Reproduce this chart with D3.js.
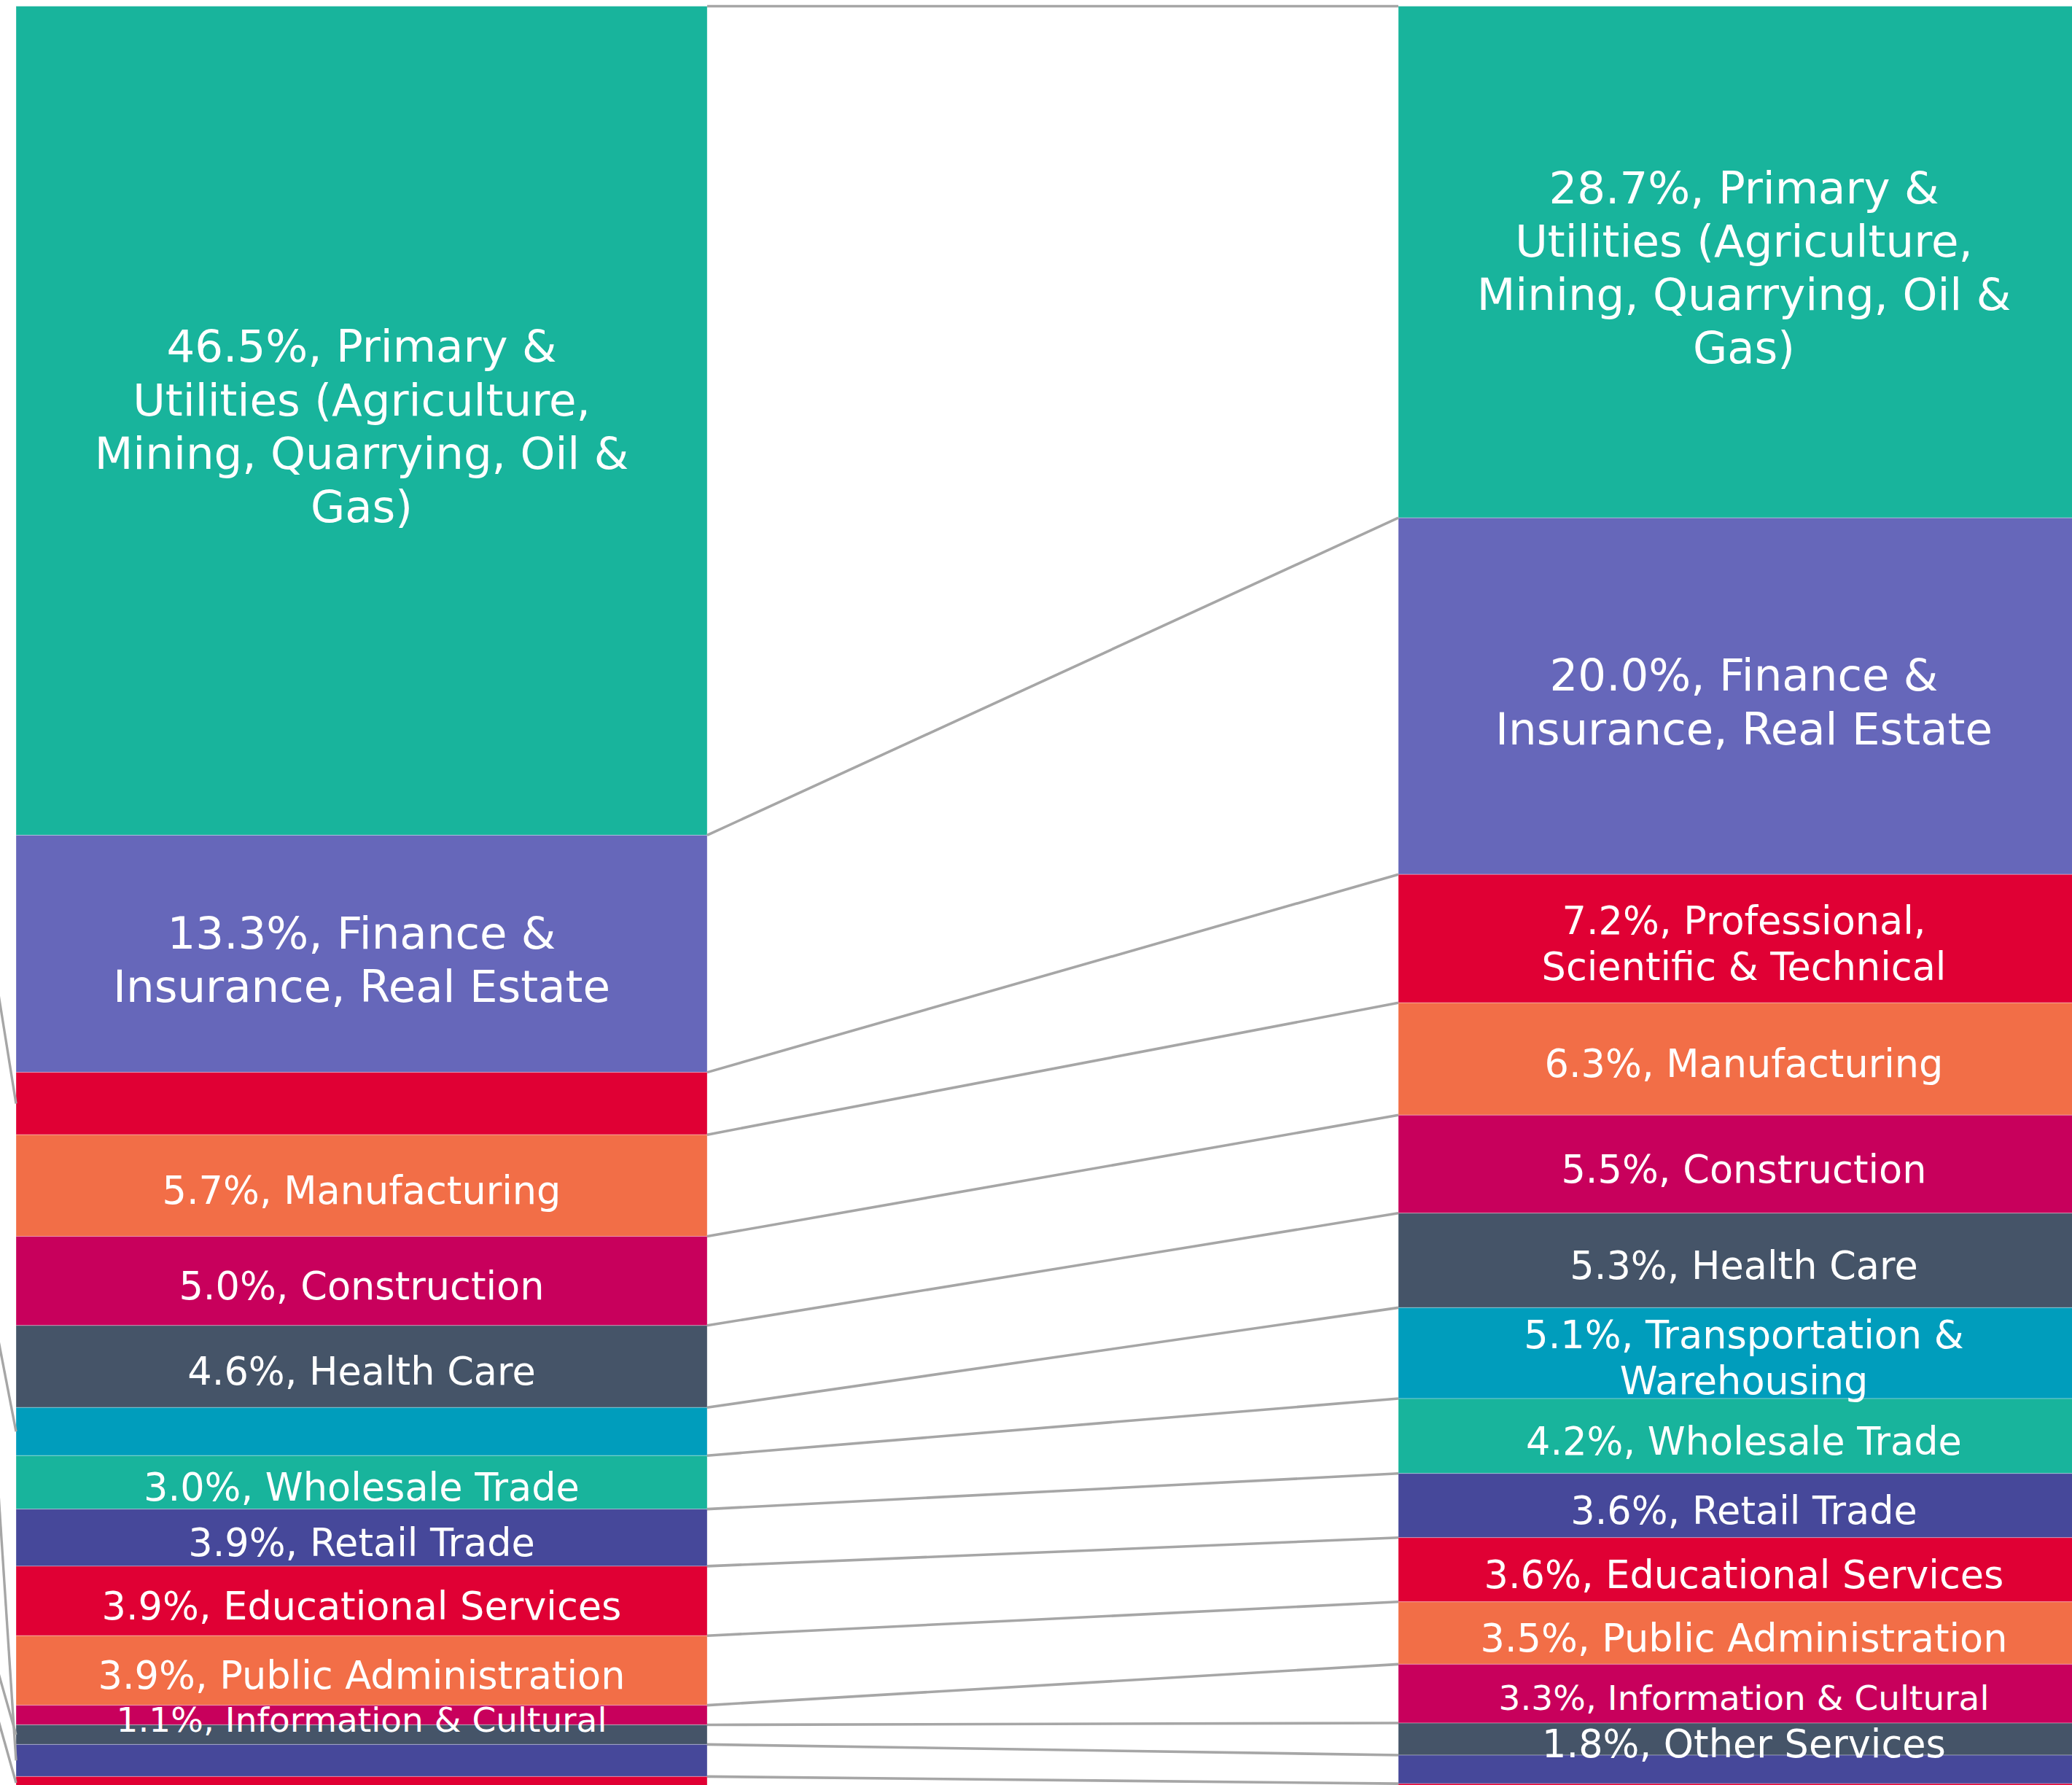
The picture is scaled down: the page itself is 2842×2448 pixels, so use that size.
<!DOCTYPE html>
<html><head><meta charset="utf-8">
<script src="https://cdn.jsdelivr.net/npm/d3@7"></script>
<style>html,body{margin:0;padding:0;background:#fff;overflow:hidden}</style>
</head><body>
<svg id="chart" width="2842" height="2448"></svg>
<script>
// ---------- DATA ----------
const categories = [
  "Primary & Utilities (Agriculture, Mining, Quarrying, Oil & Gas)",
  "Finance & Insurance, Real Estate",
  "Professional, Scientific & Technical",
  "Manufacturing",
  "Construction",
  "Health Care",
  "Transportation & Warehousing",
  "Wholesale Trade",
  "Retail Trade",
  "Educational Services",
  "Public Administration",
  "Information & Cultural",
  "Other Services",
  "Accommodation & Food Services",
  "Arts, Entertainment & Recreation"
];
const columns = ["Share A", "Share B"];
const leftValues  = [46.5, 13.3, 3.5, 5.7, 5.0, 4.6, 2.7, 3.0, 3.2, 3.9, 3.9, 1.1, 1.1, 1.8, 0.7];
const rightValues = [28.7, 20.0, 7.2, 6.3, 5.5, 5.3, 5.1, 4.2, 3.6, 3.6, 3.5, 3.3, 1.8, 1.6, 0.3];
const leftLabels = [
  "46.5%, Primary &\nUtilities (Agriculture,\nMining, Quarrying, Oil &\nGas)",
  "13.3%, Finance &\nInsurance, Real Estate",
  null,
  "5.7%, Manufacturing",
  "5.0%, Construction",
  "4.6%, Health Care",
  null,
  "3.0%, Wholesale Trade",
  "3.9%, Retail Trade",
  "3.9%, Educational Services",
  "3.9%, Public Administration",
  "1.1%, Information & Cultural",
  null, null, null
];
const rightLabels = [
  "28.7%, Primary &\nUtilities (Agriculture,\nMining, Quarrying, Oil &\nGas)",
  "20.0%, Finance &\nInsurance, Real Estate",
  "7.2%, Professional,\nScientific & Technical",
  "6.3%, Manufacturing",
  "5.5%, Construction",
  "5.3%, Health Care",
  "5.1%, Transportation &\nWarehousing",
  "4.2%, Wholesale Trade",
  "3.6%, Retail Trade",
  "3.6%, Educational Services",
  "3.5%, Public Administration",
  "3.3%, Information & Cultural",
  "1.8%, Other Services",
  null, null
];

// ---------- STYLE / LAYOUT ----------
const colors = ["#18B49C","#6667BA","#E00034","#F26E47","#C8005C","#455468","#009DBC",
                "#18B49C","#46489A","#E00034","#F26E47","#C8005C","#455468","#46489A","#E00034"];
const fontSizes = categories.map((c,i) => i < 2 ? 61 : (i === 11 ? 47 : 52.5));
// leader lines of labels that sit outside (left of) the first column: offset of the
// label end relative to the segment's left-middle point
const leaderOffsets = {2: [-22,-137], 6: [-22,-114], 12: [-22,-77], 13: [-22,-335], 14: [-22,-78]};

const svg = d3.select("#chart");
const x = d3.scaleBand().domain(columns).range([22, 2866]).paddingInner(0.5).paddingOuter(0);
const y = d3.scaleLinear().domain([0, 100]).range([2453.5, 8.5]);
const bw = x.bandwidth();

function stackOf(values) {
  let top = 100;
  return values.map((v, i) => {
    const s = {i, v, top, bottom: top - v};
    top -= v;
    return s;
  });
}
const stacks = [stackOf(leftValues), stackOf(rightValues)];
const labels = [leftLabels, rightLabels];

// bars
columns.forEach((col, ci) => {
  const g = svg.append("g");
  g.selectAll("rect").data(stacks[ci]).join("rect")
    .attr("x", x(col)).attr("width", bw)
    .attr("y", d => y(d.top)).attr("height", d => y(d.bottom) - y(d.top))
    .attr("fill", d => colors[d.i])
    .attr("stroke", "rgba(255,255,255,0.3)").attr("stroke-width", 1);
});

// series (connector) lines
const tops = stacks[0].map((d, i) => [d.top, stacks[1][i].top]);
svg.append("g").selectAll("line").data(tops).join("line")
  .attr("x1", x(columns[0]) + bw).attr("x2", x(columns[1]))
  .attr("y1", d => y(d[0])).attr("y2", d => y(d[1]))
  .attr("stroke", "#A6A6A6").attr("stroke-width", 3.6);

// leader lines for outside labels of the first column
svg.append("g").selectAll("line").data(Object.keys(leaderOffsets).map(Number)).join("line")
  .attr("x1", x(columns[0]))
  .attr("y1", i => y((stacks[0][i].top + stacks[0][i].bottom) / 2))
  .attr("x2", i => x(columns[0]) + leaderOffsets[i][0] * 3)
  .attr("y2", i => y((stacks[0][i].top + stacks[0][i].bottom) / 2) + leaderOffsets[i][1] * 3)
  .attr("stroke", "#A6A6A6").attr("stroke-width", 3.4);

// labels
columns.forEach((col, ci) => {
  const cx = x(col) + bw / 2;
  stacks[ci].forEach(d => {
    const txt = labels[ci][d.i];
    if (!txt) return;
    const fs = fontSizes[d.i];
    const lh = fs * 1.2;
    const lines = txt.split("\n");
    const cy = y((d.top + d.bottom) / 2);
    const t = svg.append("text")
      .attr("text-anchor", "middle")
      .attr("font-family", "'DejaVu Sans', Verdana, sans-serif")
      .attr("font-size", fs).attr("fill", "#fff");
    lines.forEach((ln, k) => {
      t.append("tspan").attr("x", cx)
        .attr("y", cy - (lines.length - 1) / 2 * lh + k * lh + fs * 0.48)
        .text(ln);
    });
  });
});
</script>
</body></html>
